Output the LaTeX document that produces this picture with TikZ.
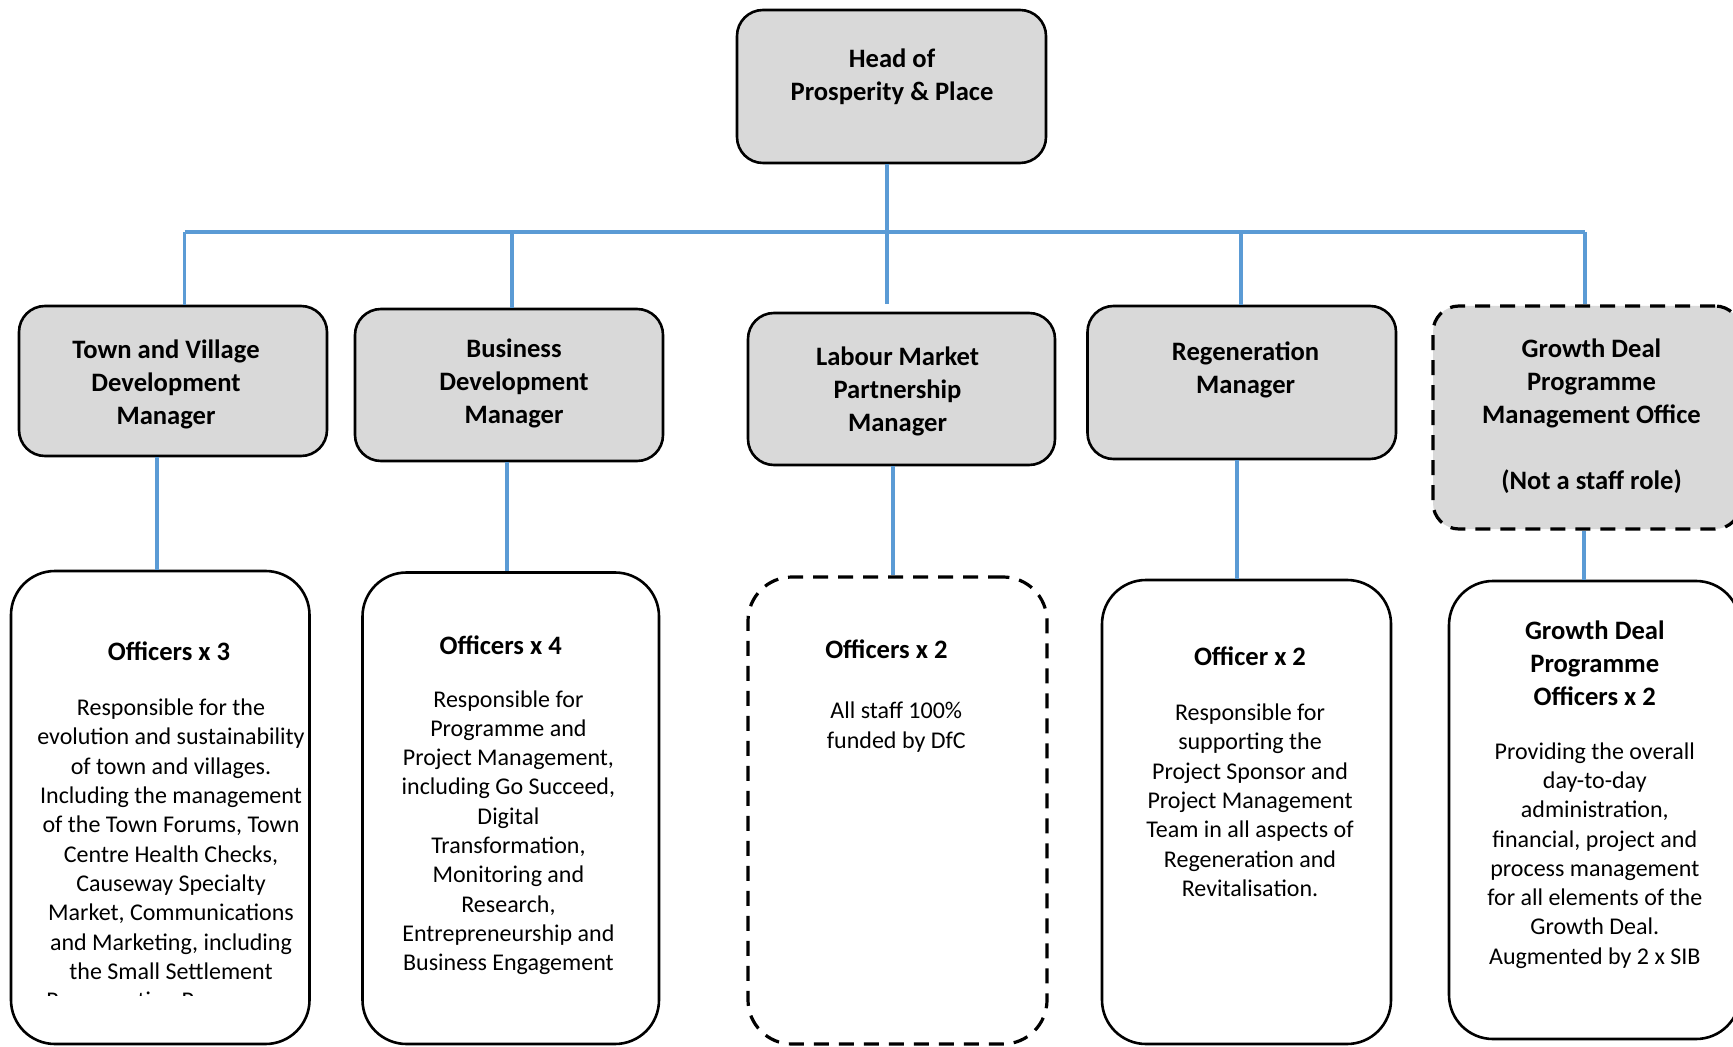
\documentclass[tikz,border=0pt]{standalone}
\usepackage{fontspec}
\setmainfont{Carlito}
\begin{document}
\begin{tikzpicture}[x=0.5pt,y=-0.5pt,
  conn/.style={draw={rgb,255:red,91;green,155;blue,213},line width=1.6pt},
  topbox/.style={draw=black,line width=1.3pt,fill={rgb,255:red,217;green,217;blue,217},rounded corners=13pt,inner sep=0pt},
  lowbox/.style={draw=black,line width=1.3pt,fill=white,rounded corners=22pt,inner sep=0pt},
  dashbox/.style={line width=1.6pt,dash pattern=on 7.5pt off 5pt},
  ttl/.style={font=\fontsize{13.3}{16.5}\selectfont\bfseries,align=center,inner sep=0pt},
  bdy/.style={font=\fontsize{12}{14.65}\selectfont,align=center,inner sep=0pt}]
\useasboundingbox (0,0) rectangle (1733,1047);

% boxes
\node[topbox,minimum width=154.5pt,minimum height=76.5pt] (head) at (891.5,86.5) {};
\node[topbox,minimum width=154pt,minimum height=75pt] (tv) at (173,381) {};
\node[topbox,minimum width=154pt,minimum height=76pt] (bd) at (509,385) {};
\node[topbox,minimum width=153.5pt,minimum height=76pt] (lm) at (901.5,389) {};
\node[topbox,minimum width=154.25pt,minimum height=76.5pt] (rg) at (1241.75,382.5) {};
\node[topbox,dashbox,minimum width=154pt,minimum height=111.5pt] (gd) at (1587,417.5) {};

\node[lowbox,minimum width=149.25pt,minimum height=236.5pt] (o1) at (160.25,807.5) {};
\node[lowbox,minimum width=148.25pt,minimum height=235.75pt] (o2) at (510.75,808.25) {};
\node[lowbox,dashbox,minimum width=149.5pt,minimum height=233.5pt] (o3) at (897.5,810.5) {};
\node[lowbox,minimum width=144.5pt,minimum height=232pt] (o4) at (1246.5,812) {};
\node[lowbox,minimum width=145.5pt,minimum height=229pt] (o5) at (1594.5,810) {};

% connectors
\coordinate (hb) at (887,232);
\coordinate (hend) at (887,304);
\coordinate (b1) at (184.6,232);
\coordinate (b2) at (512,232);
\coordinate (b4) at (1241,232);
\coordinate (b5) at (1585,232);
\draw[conn] (head.south -| hb) -- (hend);
\draw[conn] (b1) -- (b5);
\draw[conn] (b1) -- (b1 |- tv.north);
\draw[conn] (b2) -- (b2 |- bd.north);
\draw[conn] (b4) -- (b4 |- rg.north);
\draw[conn] (b5) -- (b5 |- gd.north);
\coordinate (d1) at (157,0);
\coordinate (d2) at (507,0);
\coordinate (d3) at (893,0);
\coordinate (d4) at (1237,0);
\coordinate (d5) at (1584,0);
\draw[conn] (tv.south -| d1) -- (o1.north -| d1);
\draw[conn] (bd.south -| d2) -- (o2.north -| d2);
\draw[conn] (lm.south -| d3) -- (o3.north -| d3);
\draw[conn] (rg.south -| d4) -- (o4.north -| d4);
\draw[conn] (gd.south -| d5) -- (o5.north -| d5);

% top texts
\node[ttl] (thead) at (892,77) {Head of\\Prosperity \& Place};
\node[ttl] (ttv) at (166,384.5) {Town and Village\\Development\\Manager};
\node[ttl] (tbd) at (514,383.4) {Business\\Development\\Manager};
\node[ttl] (tlm) at (897.5,391) {Labour Market\\Partnership\\Manager};
\node[ttl] (trg) at (1245.6,369.6) {Regeneration\\Manager};
\node[ttl] (tgd) at (1591.5,416) {Growth Deal\\Programme\\Management Office\\[16.5pt](Not a staff role)};

% lower texts
\node[ttl] (to1) at (169,651) {Officers x 3};
\node[bdy] (bo1) at (171,839.2) {Responsible for the\\evolution and sustainability\\of town and villages.\\Including the management\\of the Town Forums, Town\\Centre Health Checks,\\Causeway Specialty\\Market, Communications\\and Marketing, including\\the Small Settlement};
\begin{scope}
\clip (20,985) rectangle (320,995);
\node[bdy,anchor=base] (bo1x) at (171,1008.3) {Regeneration Programme};
\end{scope}

\node[ttl] (to2) at (500.7,645.4) {Officers x 4};
\node[bdy] (bo2) at (508.4,832.6) {Responsible for\\Programme and\\Project Management,\\including Go Succeed,\\Digital\\Transformation,\\Monitoring and\\Research,\\Entrepreneurship and\\Business Engagement};

\node[ttl] (to3) at (886.4,648.8) {Officers x 2};
\node[bdy] (bo3) at (896.3,727.2) {All staff 100\%\\funded by DfC};

\node[ttl] (to4) at (1250,656.5) {Officer x 2};
\node[bdy] (bo4) at (1250,800.2) {Responsible for\\supporting the\\Project Sponsor and\\Project Management\\Team in all aspects of\\Regeneration and\\Revitalisation.};

\node[ttl] (to5) at (1594.8,663.7) {Growth Deal\\Programme\\Officers x 2};
\node[bdy] (bo5) at (1594.8,855.4) {Providing the overall\\day-to-day\\administration,\\financial, project and\\process management\\for all elements of the\\Growth Deal.\\Augmented by 2 x SIB};
\end{tikzpicture}
\end{document}
